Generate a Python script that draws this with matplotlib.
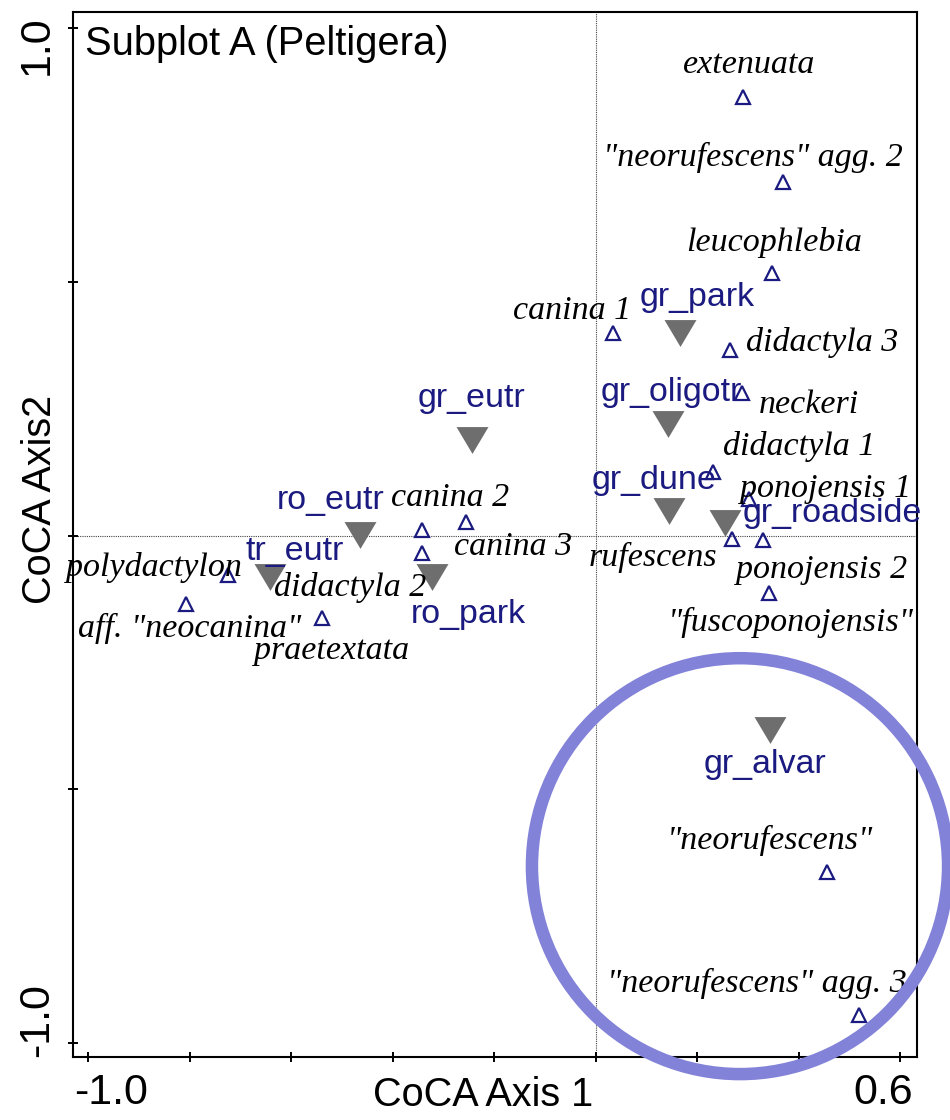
import numpy as np
import matplotlib
matplotlib.use('Agg')
import matplotlib.pyplot as plt
from matplotlib.patches import Ellipse
from matplotlib.transforms import ScaledTranslation

# species scores (open triangles)
species = ['extenuata', '"neorufescens" agg. 2', 'leucophlebia', 'canina 1',
           'didactyla 3', 'neckeri', 'didactyla 1', 'ponojensis 1', 'rufescens',
           'ponojensis 2', '"fuscoponojensis"', 'canina 2', 'canina 3',
           'didactyla 2', 'polydactylon', 'aff. "neocanina"', 'praetextata',
           '"neorufescens"', '"neorufescens" agg. 3']
sp_x = [0.291, 0.370, 0.347, 0.034, 0.265, 0.288, 0.232, 0.303, 0.268,
        0.329, 0.342, -0.343, -0.256, -0.343, -0.724, -0.807, -0.540,
        0.456, 0.519]
sp_y = [0.865, 0.698, 0.517, 0.400, 0.366, 0.282, 0.126, 0.073, -0.006,
        -0.009, -0.113, 0.012, 0.027, -0.034, -0.078, -0.134, -0.163,
        -0.664, -0.946]

# habitat group centroids (filled grey triangles)
groups = ['gr_park', 'gr_oligotr', 'gr_eutr', 'gr_dune', 'gr_roadside',
          'ro_eutr', 'ro_park', 'tr_eutr', 'gr_alvar']
gr_x = [0.166, 0.143, -0.244, 0.145, 0.255, -0.465, -0.323, -0.641, 0.3435]
gr_y = [0.399, 0.221, 0.188, 0.049, 0.024, 0.001, -0.081, -0.081, -0.383]

# label offsets in pixels (x right, y up)
sp_off = [(6, 32), (-31, 24), (2, 31), (-41, 22), (92, 7), (67, -12),
          (86, 25), (76, 10), (-79, -19), (59, -30), (21, -30), (28, 32),
          (47, -25), (-71, -35), (-74, 8), (3, -25), (10, -32), (-57, 32),
          (-102, 32)]
gr_off = [(17, 36), (3, 31), (0, 42), (-15, 30), (107, 10), (-29, 35),
          (37, -38), (24, 25), (-5, -35)]

navy = '#1a1a80'
grey = '#6e6e6e'

fig = plt.figure(figsize=(9.5, 11.2), dpi=100)
ax = fig.add_axes([73 / 950, 1 - 1057 / 1120, 843.7 / 950, 1045.3 / 1120])
ax.set_xlim(-1.030, 0.6326)
ax.set_ylim(-1.028, 1.033)

ax.axhline(0, color='#444444', lw=0.8, ls=(0, (1, 1)), zorder=1)
ax.axvline(0, color='#444444', lw=0.8, ls=(0, (1, 1)), zorder=1)

ax.plot(sp_x, sp_y, ls='none', marker='^', ms=10, mfc='none', mec=navy,
        mew=1.6, zorder=3)
# downward triangle, a little wider than tall
vmark = [(-1, 0.84), (1, 0.84), (0, -0.84)]
ax.plot(gr_x, gr_y, ls='none', marker=vmark, ms=23, color=grey, mec='none',
        zorder=2)

for name, x, y, off in zip(species, sp_x, sp_y, sp_off):
    ax.annotate(name, (x, y), xytext=off, textcoords='offset pixels',
                ha='center', va='center', fontsize=24.5,
                family='Liberation Serif', style='italic', color='black',
                zorder=4)
for name, x, y, off in zip(groups, gr_x, gr_y, gr_off):
    ax.annotate(name, (x, y), xytext=off, textcoords='offset pixels',
                ha='center', va='center', fontsize=24.5,
                family='Liberation Sans', color=navy, zorder=4)

ax.text(0.0142, 0.969, 'Subplot A (Peltigera)', transform=ax.transAxes,
        ha='left', va='center', fontsize=28.7, family='Liberation Sans')

# ticks and frame
for s in ax.spines.values():
    s.set_linewidth(1.5)
ax.set_xticks(np.arange(-1.0, 0.61, 0.2))
ax.set_xticklabels(['-1.0'] + [''] * 7 + ['0.6'])
ax.set_yticks([-1.0, -0.5, 0.0, 0.5, 1.0])
ax.set_yticklabels(['-1.0', '', '', '', '1.0'], rotation=90, va='center')
ax.tick_params(direction='inout', length=7.2, width=1.4, labelsize=31,
               pad=8)
for lab in ax.get_xticklabels() + ax.get_yticklabels():
    lab.set_family('Liberation Sans')

xl = ax.get_xticklabels()
xl[0].set_transform(xl[0].get_transform() + ScaledTranslation(0.23, 0, fig.dpi_scale_trans))
xl[-1].set_transform(xl[-1].get_transform() + ScaledTranslation(-0.17, 0, fig.dpi_scale_trans))
yl = ax.get_yticklabels()
yl[0].set_transform(yl[0].get_transform() + ScaledTranslation(0, 0.23, fig.dpi_scale_trans))
yl[-1].set_transform(yl[-1].get_transform() + ScaledTranslation(0, -0.17, fig.dpi_scale_trans))

ax.set_xlabel('CoCA Axis 1', fontsize=28.5, family='Liberation Sans')
ax.xaxis.set_label_coords(0.486, -0.036)
ax.xaxis.label.set_va('center')
ax.set_ylabel('CoCA Axis2', fontsize=28.5, family='Liberation Sans')
ax.yaxis.set_label_coords(-0.039, 0.533)
ax.yaxis.label.set_va('center')

# highlighted alvar cluster
ring = Ellipse((0.2844, -0.6517), 0.820, 0.820, fill=False, ec='#8282d9',
               lw=9, clip_on=False, zorder=6)
ax.add_patch(ring)

fig.savefig('out.png', dpi=100)
